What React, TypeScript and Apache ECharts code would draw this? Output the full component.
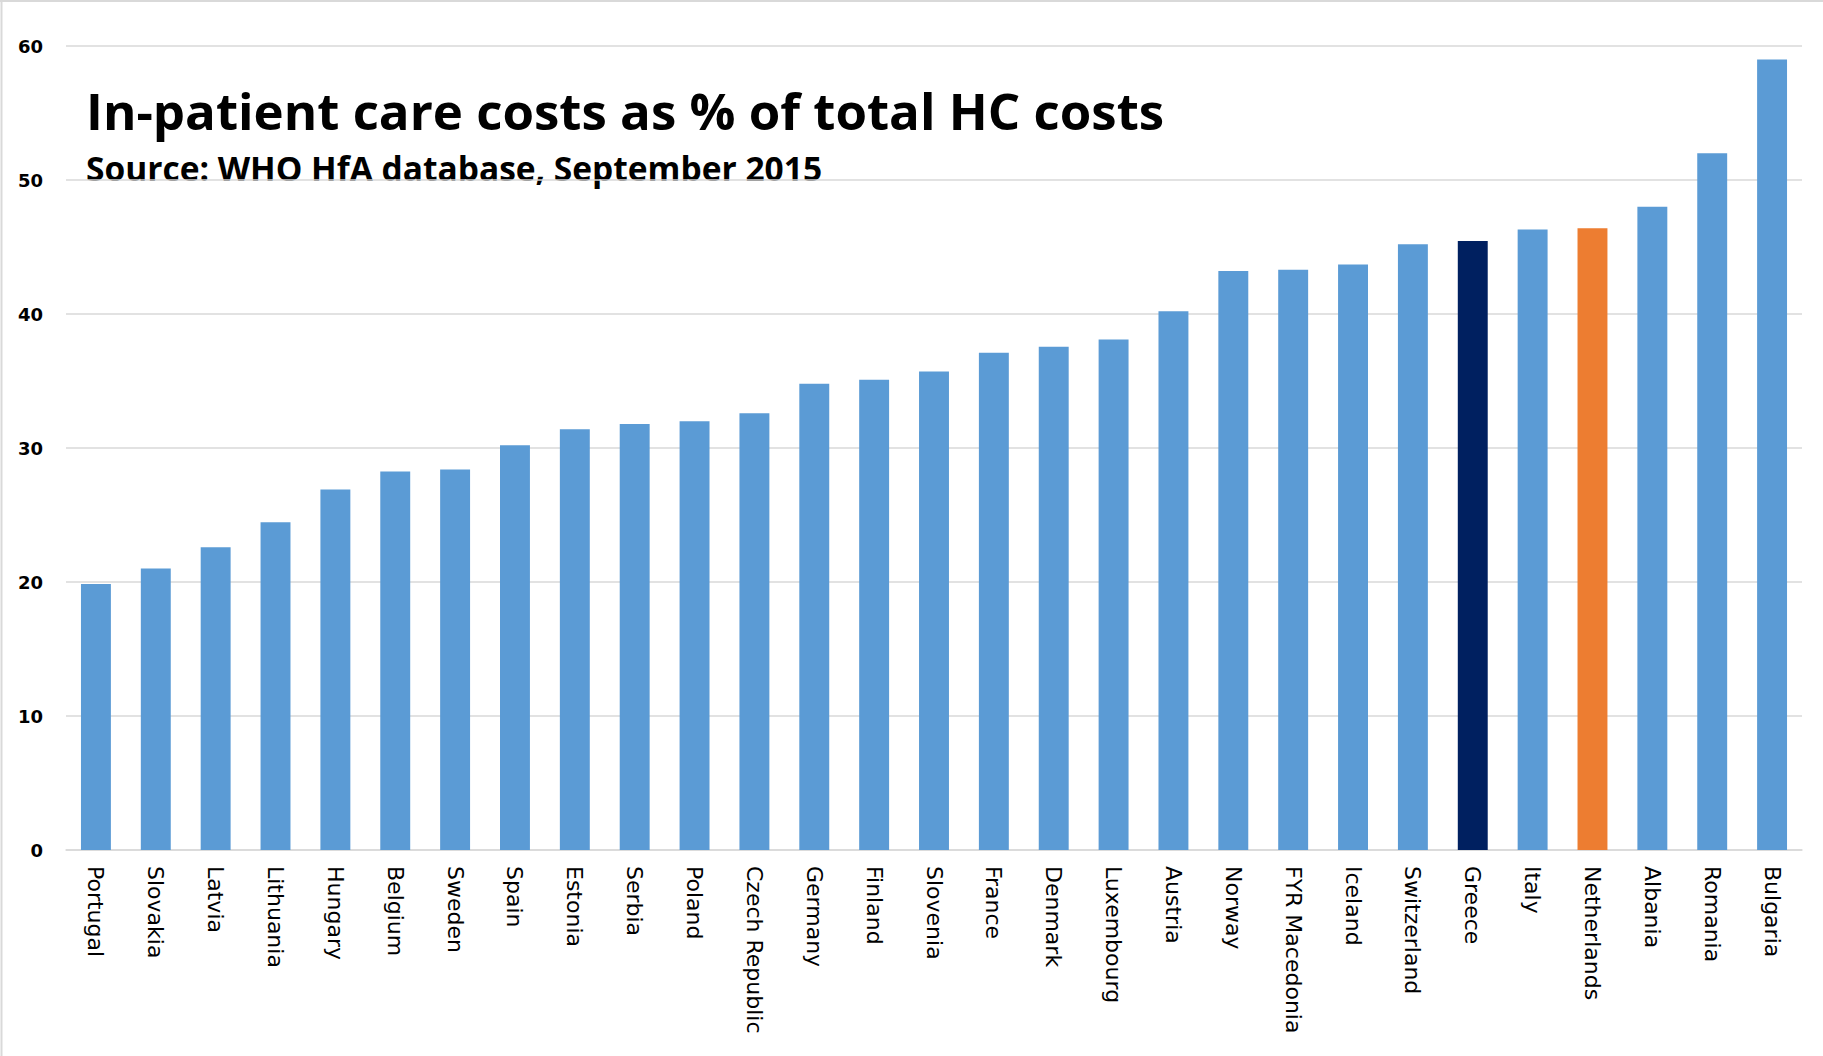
import React, { useEffect, useRef } from "react";
import * as echarts from "echarts";

const categories = [
  "Portugal", "Slovakia", "Latvia", "Lithuania", "Hungary", "Belgium", "Sweden",
  "Spain", "Estonia", "Serbia", "Poland", "Czech Republic", "Germany", "Finland",
  "Slovenia", "France", "Denmark", "Luxembourg", "Austria", "Norway", "FYR Macedonia",
  "Iceland", "Switzerland", "Greece", "Italy", "Netherlands", "Albania", "Romania", "Bulgaria",
];
const values = [
  19.85, 21.0, 22.6, 24.45, 26.9, 28.25, 28.4,
  30.2, 31.4, 31.8, 32.0, 32.6, 34.8, 35.1,
  35.7, 37.1, 37.55, 38.1, 40.2, 43.2, 43.3,
  43.7, 45.2, 45.45, 46.3, 46.4, 48.0, 52.0, 59.0,
];
const highlightColors: Record<string, string> = {
  Greece: "#002060",
  Netherlands: "#ED7D31",
};
const baseColor = "#5B9BD5";
const yMin = 0;
const yMax = 60;
const yInterval = 10;
const titleText = "In-patient care costs as % of total HC costs";
const subtitleText = "Source: WHO HfA database, September 2015";

export default function App() {
  const ref = useRef<HTMLDivElement>(null);
  useEffect(() => {
    if (!ref.current) return;
    const chart = echarts.init(ref.current, undefined, { renderer: "svg" });
    chart.setOption({
      animation: false,
      backgroundColor: "#ffffff",
      grid: { left: 66, right: 21, top: 46, bottom: 206, containLabel: false },
      xAxis: {
        type: "category",
        data: categories,
        axisLine: { show: true, lineStyle: { color: "#D9D9D9", width: 1.5 } },
        axisTick: { show: false },
        axisLabel: {
          interval: 0,
          rotate: -90,
          margin: 16,
          color: "#000000",
          fontFamily: "DejaVu Sans",
          fontSize: 22,
        },
      },
      yAxis: {
        type: "value",
        min: yMin,
        max: yMax,
        interval: yInterval,
        axisLine: { show: false },
        axisTick: { show: false },
        splitLine: { lineStyle: { color: "#D9D9D9", width: 1.5 } },
        axisLabel: {
          margin: 23,
          color: "#000000",
          fontFamily: "DejaVu Sans",
          fontWeight: "bold",
          fontSize: 18,
        },
      },
      series: [
        {
          type: "bar",
          barCategoryGap: "50%",
          data: categories.map((c, i) => ({
            value: values[i],
            itemStyle: { color: highlightColors[c] || baseColor },
          })),
        },
      ],
      graphic: [
        {
          type: "line",
          shape: { x1: 0, y1: 1, x2: 1823, y2: 1 },
          style: { stroke: "#D9D9D9", lineWidth: 2 },
        },
        {
          type: "line",
          shape: { x1: 1.5, y1: 0, x2: 1.5, y2: 1056 },
          style: { stroke: "#D9D9D9", lineWidth: 2 },
        },
        {
          type: "text",
          x: 86,
          y: 110,
          style: {
            text: titleText,
            fill: "#000000",
            font: "bold 51px 'Open Sans'",
            verticalAlign: "middle",
          },
        },
        {
          type: "text",
          x: 86,
          y: 168,
          style: {
            text: subtitleText,
            fill: "#000000",
            font: "bold 33.5px 'Open Sans'",
            verticalAlign: "middle",
          },
        },
      ],
    });
    return () => chart.dispose();
  }, []);
  return (
    <div
      ref={ref}
      style={{ position: "fixed", left: 0, top: 0, width: 1823, height: 1056, background: "#fff" }}
    />
  );
}
